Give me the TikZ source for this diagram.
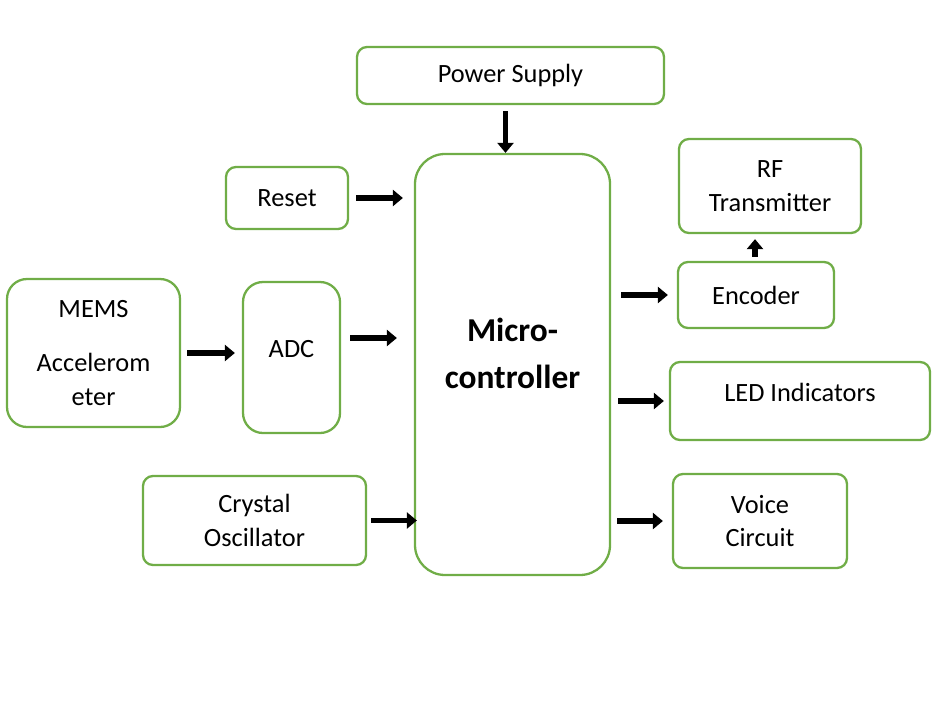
\documentclass[tikz,border=0pt]{standalone}
\usepackage{fontspec}
\setmainfont{Carlito}
\usetikzlibrary{arrows.meta}
\definecolor{boxgreen}{RGB}{112,173,71}

\begin{document}
\begin{tikzpicture}[
    box/.style={draw=boxgreen, line width=1.3pt, rounded corners=0.2cm, align=center,
                inner sep=0pt, font=\fontsize{15}{19.3}\selectfont},
    arr/.style={line width=3.4pt, -{Triangle[length=0.2cm, width=0.32cm]}}
]

\useasboundingbox (0,0) rectangle (18.88,-14.32);

% --- Central block ---
\node[box, rounded corners=0.6cm, minimum width=3.9cm, minimum height=8.42cm,
      font=\fontsize{19}{27}\selectfont\bfseries] (mc) at (10.25,-7.29) {Micro-\\controller\\[-14.5pt]};

% --- Inputs ---
\node[box, minimum width=6.14cm, minimum height=1.14cm] (power) at (10.21,-1.51) {Power Supply};
\node[box, minimum width=2.44cm, minimum height=1.24cm] (reset) at (5.74,-3.96) {Reset};
\node[box, rounded corners=0.4cm, minimum width=3.46cm, minimum height=2.96cm] (mems) at (1.87,-7.06) {MEMS\\[11.7pt]Accelerom\\eter};
\node[box, rounded corners=0.4cm, minimum width=1.94cm, minimum height=3.02cm] (adc) at (5.83,-7.15) {ADC\\[-9.3pt]};
\node[box, minimum width=4.46cm, minimum height=1.78cm] (xtal) at (5.09,-10.41) {Crystal\\Oscillator};

% --- Outputs ---
\node[box, minimum width=3.64cm, minimum height=1.88cm] (rf) at (15.40,-3.72) {RF\\Transmitter};
\node[box, minimum width=3.12cm, minimum height=1.32cm] (enc) at (15.12,-5.90) {Encoder};
\node[box, minimum width=5.20cm, minimum height=1.56cm] (led) at (16.00,-8.02) {LED Indicators\\[-9.3pt]};
\node[box, minimum width=3.48cm, minimum height=1.88cm] (voice) at (15.20,-10.42) {Voice\\Circuit};

% --- Arrows ---
\coordinate (p0) at ([xshift=-0.1cm]power.south);
\coordinate (a0) at ([yshift=0.39cm]adc.east);
\coordinate (e0) at ([xshift=-0.02cm]enc.north);

\draw[arr, shorten <=0.12cm] (p0) -- (p0 |- mc.north);
\draw[arr, shorten <=0.14cm, shorten >=0.22cm] (reset.east) -- (reset.east -| mc.west);
\draw[arr, shorten <=0.12cm, shorten >=0.14cm] (mems.east) -- (mems.east -| adc.west);
\draw[arr, shorten <=0.18cm, shorten >=0.34cm] (a0) -- (a0 -| mc.west);
\draw[arr, shorten <=0.08cm, shorten >=-0.06cm] (xtal.east) -- (xtal.east -| mc.west);

\draw[arr, shorten <=0.20cm, shorten >=0.18cm] (enc.west -| mc.east) -- (enc.west);
\draw[arr, shorten <=0.14cm, shorten >=0.10cm] (led.west -| mc.east) -- (led.west);
\draw[arr, shorten <=0.12cm, shorten >=0.18cm] (voice.west -| mc.east) -- (voice.west);
\draw[arr, shorten <=0.08cm, shorten >=0.10cm] (e0) -- (e0 |- rf.south);

\end{tikzpicture}
\end{document}
